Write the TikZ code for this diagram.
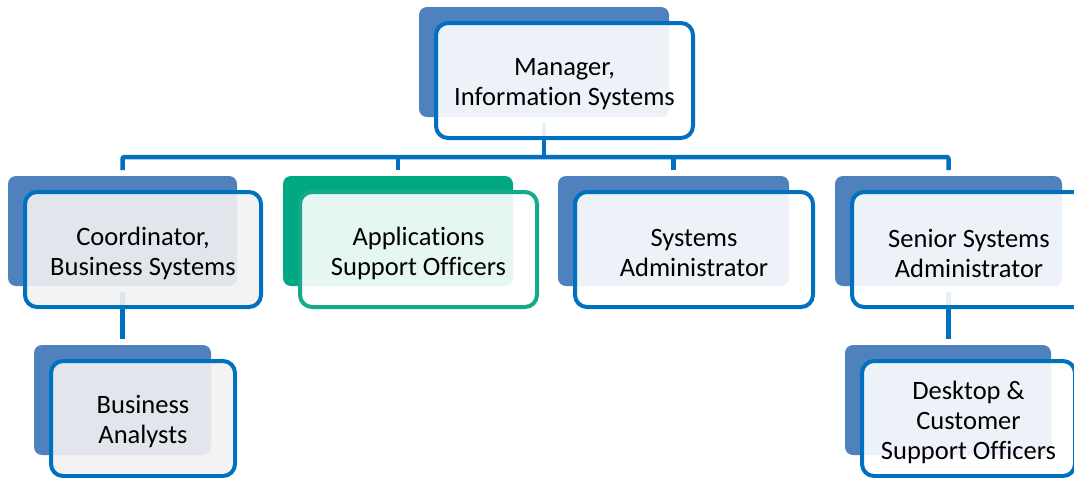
\documentclass[tikz,border=0pt]{standalone}
\usepackage{fontspec}
\setmainfont{Carlito}[Ligatures=NoCommon]
\usetikzlibrary{calc}
\definecolor{shadeblue}{HTML}{4F81BD}
\definecolor{edgeblue}{HTML}{0070C0}
\definecolor{shadegreen}{HTML}{00A884}
\definecolor{edgegreen}{HTML}{14AA8A}
\definecolor{paper}{HTML}{F2F2F2}
\pgfdeclarelayer{background}
\pgfsetlayers{background,main}
\tikzset{
  link/.style={draw=edgeblue, line width=4.5pt},
  backbox/.style={rounded corners=8pt, inner sep=0pt, outer sep=0pt, fill=#1},
  frontbox/.style 2 args={rounded corners=12pt, inner sep=0pt, outer sep=0pt,
    draw=#1, line width=4pt, fill=#2, fill opacity=0.9},
  cardtext/.style={inner sep=0pt, align=center, text=black,
    font=\fontsize{26.5}{30}\selectfont},
}
% one org-chart unit: shaded back plate, outlined front card and its label
% #1 name, #2 plate left, #3 plate top, #4 plate width,
% #5 plate colour, #6 card edge colour, #7 card fill, #8 label
\newcommand\orgunit[8]{%
  \node[backbox=#5, minimum width=#4, minimum height=110] (#1b)
    at ({#2+#4/2},{#3+55}) {};
  \node[frontbox={#6}{#7}, minimum width={#4+7}, minimum height=115] (#1)
    at ({#2+17+(#4+7)/2},{#3+73.5}) {};
  \node[cardtext] (#1t) at ([yshift=-3.5pt]#1.center) {#8};
}
\begin{document}
\begin{tikzpicture}[x=1pt,y=-1pt]
  \useasboundingbox (0,0) rectangle (1074,477);
  \clip (0,0) rectangle (1074,477);

  \orgunit{m}{419}{7}{250}{shadeblue}{edgeblue}{white}{Manager,\\Information Systems}
  \orgunit{c}{8}{176}{229}{shadeblue}{edgeblue}{paper}{Coordinator,\\Business Systems}
  \orgunit{a}{283}{176}{230}{shadegreen}{edgegreen}{white}{Applications\\Support Officers}
  \orgunit{s}{558}{176}{231}{shadeblue}{edgeblue}{white}{Systems\\Administrator}
  \orgunit{sa}{835}{176}{227}{shadeblue}{edgeblue}{white}{Senior Systems\\Administrator}
  \orgunit{ba}{34}{345}{177}{shadeblue}{edgeblue}{paper}{Business\\Analysts}
  \orgunit{d}{845}{345}{206}{shadeblue}{edgeblue}{white}{Desktop \&\\Customer\\Support Officers}

  \begin{pgfonlayer}{background}
    \fill[white] (0,0) rectangle (1074,477);
    \coordinate (bar) at (0,157);
    \draw[link] ([yshift=-6pt]mb.south) -- (mb.south |- bar);
    \draw[link, rounded corners=2pt] ([yshift=6pt]cb.north) |- (bar -| sab.north)
      -- ([yshift=6pt]sab.north);
    \draw[link] (bar -| ab.north) -- ([yshift=6pt]ab.north);
    \draw[link] (bar -| sb.north) -- ([yshift=6pt]sb.north);
    \draw[link] ([yshift=-6pt]cb.south) -- ($(cb.south |- bab.north)+(0,-6)$);
    \draw[link] ([yshift=-6pt]sab.south) -- ($(sab.south |- db.north)+(0,-6)$);
  \end{pgfonlayer}
\end{tikzpicture}
\end{document}
